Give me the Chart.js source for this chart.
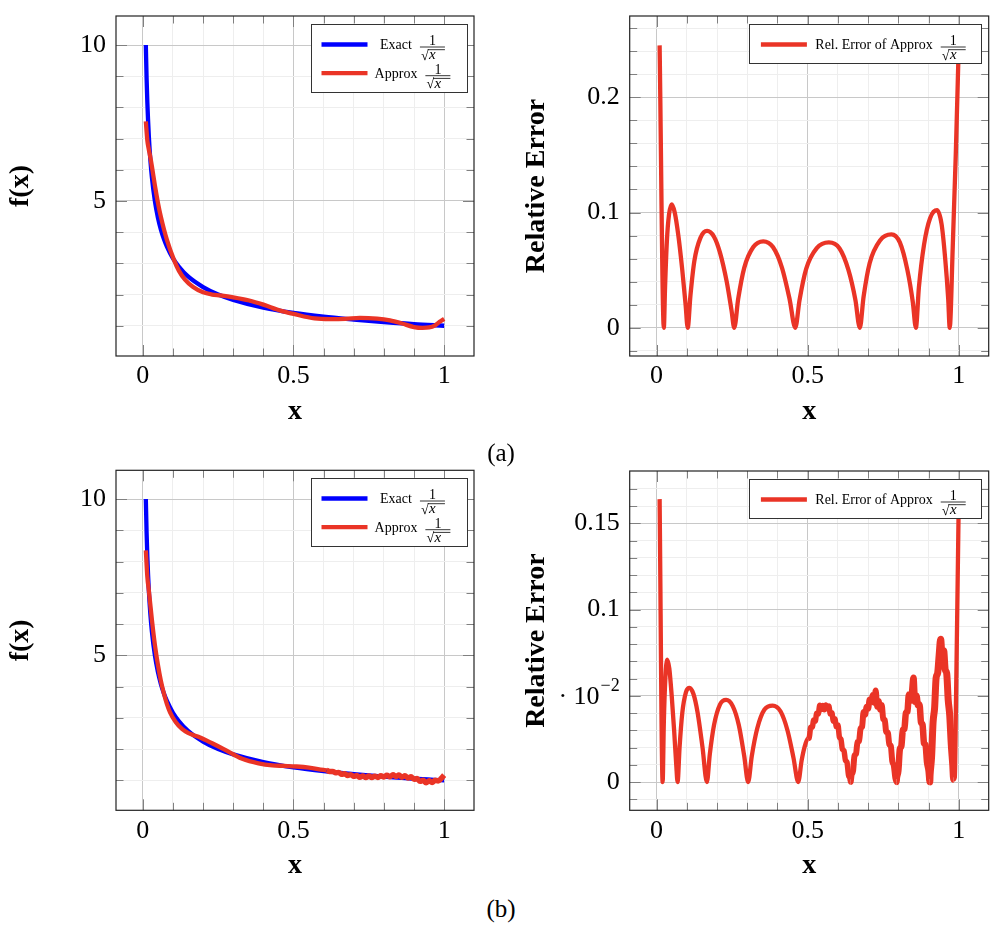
<!DOCTYPE html>
<html>
<head>
<meta charset="utf-8">
<script src="https://cdn.jsdelivr.net/npm/chart.js@4.4.1/dist/chart.umd.min.js"></script>
<style>
  body { margin: 0; background: #fff; }
  #page { position: relative; width: 1002px; height: 930px; font-family: "Liberation Serif", serif; }
  .panel { position: absolute; }
  .cap { position: absolute; width: 60px; text-align: center; font-size: 25px; line-height: 25px; }
</style>
</head>
<body>
<div id="page">
  <canvas class="panel" id="fa" width="500" height="440" style="left:0;top:0"></canvas>
  <canvas class="panel" id="ea" width="502" height="440" style="left:500px;top:0"></canvas>
  <div class="cap" style="left:471px;top:440px">(a)</div>
  <canvas class="panel" id="fb" width="500" height="440" style="left:0;top:455px"></canvas>
  <canvas class="panel" id="eb" width="502" height="440" style="left:500px;top:455px"></canvas>
  <div class="cap" style="left:471px;top:896px">(b)</div>
</div>
<script>
// ticks
const xMinor = [0, 0.1, 0.2, 0.3, 0.4, 0.5, 0.6, 0.7, 0.8, 0.9, 1];
const xMajor = [0, 0.5, 1];
const xLabels = ['0', '0.5', '1'];
const fMinor = [1, 2, 3, 4, 5, 6, 7, 8, 9, 10];
const fMajor = [5, 10];
const fLabels = ['5', '10'];
const errAMinor = [-0.02, 0, 0.02, 0.04, 0.06, 0.08, 0.1, 0.12, 0.14, 0.16, 0.18, 0.2, 0.22, 0.24, 0.26];
const errAMajor = [0, 0.1, 0.2];
const errALabels = ['0', '0.1', '0.2'];
const errBMinor = [-0.01, 0, 0.01, 0.02, 0.03, 0.04, 0.05, 0.06, 0.07, 0.08, 0.09, 0.1, 0.11, 0.12, 0.13, 0.14, 0.15, 0.16, 0.17];
const errBMajor = [0, 0.05, 0.1, 0.15];
const errBLabels = ['0', '', '0.1', '0.15'];
// pgfplots put its scale note "· 10^-2" in place of the 0.05 label
const errBScaleNote = { value: 0.05, base: '· 10', sup: '−2' };

// exact 1/sqrt(x)
const exactX = [0.01, 0.0125, 0.015, 0.02, 0.025, 0.03, 0.04, 0.05, 0.06, 0.07, 0.08, 0.1, 0.12, 0.15, 0.2, 0.25, 0.3, 0.4, 0.5, 0.6, 0.7, 0.8, 0.9, 1.0];
const exactY = [10, 8.94, 8.16, 7.07, 6.32, 5.77, 5.0, 4.47, 4.08, 3.78, 3.54, 3.16, 2.89, 2.58, 2.24, 2.0, 1.83, 1.58, 1.41, 1.29, 1.2, 1.12, 1.05, 1.0];

// (a) approximation and its relative error
const approxAX = [0.01, 0.015, 0.02, 0.024, 0.03, 0.04, 0.05, 0.06, 0.08, 0.103, 0.12, 0.14, 0.167, 0.2, 0.23, 0.257, 0.3, 0.353, 0.4, 0.459, 0.5, 0.57, 0.62, 0.6725, 0.72, 0.777, 0.82, 0.858, 0.9, 0.928, 0.95, 0.97, 0.985, 1.0];
const approxAY = [7.55, 6.94, 6.65, 6.45, 6.12, 5.5, 4.95, 4.49, 3.75, 3.12, 2.76, 2.48, 2.24, 2.07, 2.0, 1.97, 1.91, 1.81, 1.676, 1.476, 1.38, 1.235, 1.21, 1.219, 1.25, 1.226, 1.171, 1.08, 0.959, 0.932, 0.944, 1.015, 1.128, 1.22];
const errAX = [0.01, 0.024, 0.028, 0.034, 0.041, 0.05, 0.06, 0.072, 0.085, 0.096, 0.103,
  0.112, 0.125, 0.145, 0.167, 0.19, 0.21, 0.232, 0.248, 0.257,
  0.27, 0.29, 0.32, 0.353, 0.385, 0.415, 0.44, 0.459,
  0.473, 0.495, 0.53, 0.57, 0.605, 0.635, 0.658, 0.6725,
  0.685, 0.705, 0.74, 0.777, 0.805, 0.83, 0.848, 0.858,
  0.868, 0.885, 0.905, 0.928, 0.943, 0.955, 0.965, 0.97,
  0.98, 0.99, 1.0];
const errAY = [0.245, 0, 0.035, 0.075, 0.098, 0.107, 0.1, 0.08, 0.05, 0.02, 0,
  0.028, 0.058, 0.078, 0.084, 0.079, 0.065, 0.04, 0.015, 0,
  0.025, 0.052, 0.07, 0.075, 0.07, 0.052, 0.025, 0,
  0.024, 0.051, 0.069, 0.074, 0.069, 0.05, 0.024, 0,
  0.027, 0.056, 0.076, 0.081, 0.074, 0.05, 0.022, 0,
  0.035, 0.072, 0.095, 0.102, 0.09, 0.06, 0.025, 0,
  0.07, 0.15, 0.246];

// (b) approximation and its relative error (noisy past x = 0.5)
const approxBX = [0.01, 0.015, 0.02, 0.025, 0.03, 0.035, 0.04, 0.05, 0.06, 0.0695, 0.08, 0.09, 0.109, 0.13, 0.15, 0.1665, 0.19, 0.23, 0.27, 0.303, 0.33, 0.384, 0.43, 0.4686, 0.51, 0.551, 0.6,
  0.61, 0.62, 0.63, 0.64, 0.65, 0.66, 0.67, 0.68, 0.69, 0.7, 0.71, 0.72, 0.73, 0.74, 0.75, 0.76, 0.77, 0.78, 0.79, 0.8,
  0.81, 0.82, 0.83, 0.84, 0.85, 0.86, 0.87, 0.88, 0.89, 0.9, 0.91, 0.92, 0.93, 0.94, 0.95, 0.96, 0.97, 0.98, 0.99, 1.0];
const approxBY = [8.36, 7.51, 7.07, 6.61, 6.15, 5.72, 5.34, 4.7, 4.18, 3.793, 3.437, 3.183, 2.864, 2.643, 2.517, 2.451, 2.37, 2.184, 1.988, 1.817, 1.689, 1.542, 1.476, 1.461, 1.442, 1.406, 1.33,
  1.32, 1.278, 1.285, 1.24, 1.25, 1.195, 1.21, 1.152, 1.181, 1.126, 1.153, 1.097, 1.136, 1.092, 1.139, 1.089, 1.133, 1.092, 1.146, 1.107,
  1.161, 1.116, 1.175, 1.123, 1.167, 1.1, 1.142, 1.075, 1.111, 1.035, 1.06, 0.966, 1.002, 0.919, 0.982, 0.929, 1.0, 0.981, 1.055, 1.164];
const errBX = [0.01, 0.02, 0.024, 0.029, 0.035, 0.042, 0.05, 0.058, 0.065, 0.0695,
  0.076, 0.085, 0.097, 0.109, 0.122, 0.136, 0.152, 0.1665,
  0.176, 0.19, 0.21, 0.23, 0.252, 0.272, 0.29, 0.303,
  0.315, 0.333, 0.357, 0.384, 0.41, 0.433, 0.453, 0.4686,
  0.48, 0.49, 0.5, 0.505, 0.51, 0.515, 0.52, 0.525, 0.53, 0.535, 0.54, 0.545, 0.55, 0.555, 0.56, 0.565, 0.57,
  0.575, 0.58, 0.585, 0.59, 0.595, 0.6, 0.605, 0.61, 0.615, 0.62, 0.625, 0.63, 0.635, 0.64, 0.642,
  0.645, 0.65, 0.655, 0.66, 0.665, 0.67, 0.675, 0.68, 0.685, 0.69, 0.695, 0.7, 0.705, 0.71, 0.715, 0.72,
  0.725, 0.73, 0.735, 0.74, 0.745, 0.75, 0.755, 0.76, 0.765, 0.77, 0.775, 0.78, 0.785, 0.79, 0.794,
  0.795, 0.8, 0.805, 0.81, 0.815, 0.82, 0.825, 0.83, 0.835, 0.84, 0.845, 0.85, 0.855, 0.86, 0.865,
  0.87, 0.875, 0.88, 0.885, 0.89, 0.895, 0.9, 0.904,
  0.905, 0.91, 0.915, 0.92, 0.925, 0.93, 0.935, 0.94, 0.945, 0.95, 0.955, 0.96, 0.965, 0.97, 0.975, 0.98, 0.983,
  0.987, 0.991, 0.995, 1.0];
const errBY = [0.164, 0, 0.035, 0.06, 0.071, 0.066, 0.05, 0.03, 0.01, 0,
  0.02, 0.04, 0.052, 0.0545, 0.051, 0.04, 0.02, 0,
  0.016, 0.033, 0.045, 0.0476, 0.044, 0.033, 0.015, 0,
  0.015, 0.031, 0.042, 0.0443, 0.041, 0.03, 0.014, 0,
  0.0125, 0.0205, 0.0251, 0.0255, 0.0318, 0.0318, 0.036, 0.0353, 0.0398, 0.0394, 0.0445, 0.042, 0.0443, 0.0419, 0.0447, 0.0425, 0.044,
  0.0394, 0.0401, 0.0353, 0.0367, 0.032, 0.0331, 0.026, 0.0248, 0.0189, 0.0182, 0.0125, 0.0115, 0.0041, 0.002, 0,
  0.004, 0.0063, 0.0153, 0.0164, 0.0233, 0.0237, 0.031, 0.0321, 0.0406, 0.0389, 0.0437, 0.0424, 0.0479, 0.0466, 0.0504, 0.046,
  0.053, 0.0436, 0.0469, 0.0419, 0.0446, 0.0365, 0.0359, 0.0289, 0.0288, 0.0219, 0.021, 0.012, 0.0096, 0.0025, 0,
  0.0022, 0.0066, 0.019, 0.0209, 0.0302, 0.0307, 0.0401, 0.0408, 0.0508, 0.0471, 0.0516, 0.0605, 0.0466, 0.05, 0.0444,
  0.0449, 0.0346, 0.0332, 0.0224, 0.0214, 0.0114, 0.0067, 0,
  0.004, 0.0146, 0.0349, 0.0429, 0.0604, 0.0631, 0.0735, 0.0828, 0.072, 0.0761, 0.0652, 0.063, 0.0476, 0.0387, 0.0222, 0.01, 0.0015,
  0.003, 0.05, 0.1, 0.164];

const BLUE = '#0000ff';
const RED = '#ea3426';
const SERIF = '"Liberation Serif", serif';
const LINE_W = 4.3;

function has(list, v) {
  return list.some(m => Math.abs(m - v) < 1e-9);
}

function axis(minor, major, labels, min, max, title, titlePad, tickPad, fit) {
  return {
    type: 'linear', min: min, max: max,
    afterBuildTicks: s => { s.ticks = minor.map(v => ({ value: v })); },
    afterFit: s => {
      fit(s);
      // keep the plot box exactly where it is in the figure
      s.paddingTop = s.paddingBottom = s.paddingLeft = s.paddingRight = 0;
    },
    grid: {
      drawTicks: false,
      color: c => (c.tick && has(major, c.tick.value)) ? '#c8c8c8' : '#eeeeee',
      lineWidth: 1
    },
    border: { display: false },
    ticks: {
      autoSkip: false, maxRotation: 0, padding: tickPad, color: '#000',
      font: { family: SERIF, size: 26 },
      callback: v => { const i = major.findIndex(m => Math.abs(m - v) < 1e-9); return i < 0 ? '' : labels[i]; }
    },
    title: { display: true, text: title, color: '#000', padding: titlePad, font: { family: SERIF, size: 28, weight: 'bold' } }
  };
}

// pgfplots-like frame with inward ticks on every side
const pgfAxes = {
  id: 'pgfAxes',
  beforeDatasetsDraw(chart) {
    const { ctx, chartArea: a } = chart;
    ctx.save();
    ctx.strokeStyle = '#808080';
    ctx.lineWidth = 1;
    ['x', 'y'].forEach(id => {
      const s = chart.scales[id];
      const major = s.options.majorList;
      s.ticks.forEach(t => {
        const p = Math.round(s.getPixelForValue(t.value)) + 0.5;
        const len = has(major, t.value) ? 11 : 7.5;
        ctx.beginPath();
        if (id === 'x') {
          ctx.moveTo(p, a.bottom); ctx.lineTo(p, a.bottom - len);
          ctx.moveTo(p, a.top); ctx.lineTo(p, a.top + len);
        } else {
          ctx.moveTo(a.left, p); ctx.lineTo(a.left + len, p);
          ctx.moveTo(a.right, p); ctx.lineTo(a.right - len, p);
        }
        ctx.stroke();
      });
    });
    ctx.restore();
  },
  afterDatasetsDraw(chart) {
    const { ctx, chartArea: a } = chart;
    ctx.save();
    ctx.strokeStyle = '#222';
    ctx.lineWidth = 1.2;
    ctx.strokeRect(a.left, a.top, a.right - a.left, a.bottom - a.top);
    const note = chart.options.scales.y.scaleNote;
    if (note) {
      const y = chart.scales.y.getPixelForValue(note.value);
      const right = a.left - 10;
      ctx.fillStyle = '#000';
      ctx.textBaseline = 'middle';
      ctx.textAlign = 'right';
      ctx.font = '18px ' + SERIF;
      const supW = ctx.measureText(note.sup).width;
      ctx.fillText(note.sup, right, y - 9);
      ctx.font = '26px ' + SERIF;
      ctx.fillText(note.base, right - supW - 1, y + 1);
    }
    ctx.restore();
  }
};

function drawFrac(ctx, x, cy, w) {
  ctx.fillStyle = '#000';
  ctx.strokeStyle = '#000';
  ctx.textBaseline = 'alphabetic';
  ctx.textAlign = 'center';
  ctx.font = '14px ' + SERIF;
  ctx.fillText('1', x + w / 2, cy + 0.8);
  ctx.lineWidth = 0.8;
  ctx.beginPath(); ctx.moveTo(x, cy + 2.5); ctx.lineTo(x + w, cy + 2.5); ctx.stroke();
  ctx.textAlign = 'left';
  ctx.font = '14px ' + SERIF;
  const sw = ctx.measureText('√').width;
  ctx.fillText('√', x + 1, cy + 15);
  ctx.font = 'italic 15px ' + SERIF;
  ctx.fillText('x', x + 1 + sw + 0.5, cy + 14.5);
  ctx.beginPath(); ctx.moveTo(x + sw, cy + 5.2); ctx.lineTo(x + w, cy + 5.2); ctx.stroke();
}

function texLegend(box) {
  return {
    id: 'texLegend',
    afterDraw(chart) {
      const { ctx, chartArea: a } = chart;
      const x0 = Math.round(a.right - box.right - box.width) + 0.5;
      const y0 = Math.round(a.top + 8) + 0.5;
      const h = box.items.length === 1 ? 39 : 68;
      ctx.save();
      ctx.fillStyle = '#fff';
      ctx.fillRect(x0, y0, box.width, h);
      ctx.strokeStyle = '#333';
      ctx.lineWidth = 1;
      ctx.strokeRect(x0, y0, box.width, h);
      box.items.forEach((it, i) => {
        const cy = y0 + 20 + i * 28.7;
        ctx.strokeStyle = it.color;
        ctx.lineWidth = LINE_W;
        ctx.beginPath(); ctx.moveTo(x0 + box.lineLeft, cy); ctx.lineTo(x0 + box.lineLeft + 46, cy); ctx.stroke();
        ctx.font = '14px ' + SERIF;
        ctx.fillStyle = '#000';
        ctx.textAlign = 'left';
        ctx.textBaseline = 'alphabetic';
        const tw = ctx.measureText(it.text).width;
        const fw = 25, gap = 8;
        const tx = x0 + box.cell - (tw + gap + fw) / 2;
        ctx.fillText(it.text, tx, cy + 4.7);
        drawFrac(ctx, tx + tw + gap, cy, fw);
      });
      ctx.restore();
    }
  };
}

// thicker stroke where the approximation is noisy
function noisyWidth(steps) {
  return c => {
    let w;
    steps.forEach(st => { if (c.p0.parsed.x >= st[0] - 1e-9) w = st[1]; });
    return w;
  };
}

function panel(id, p) {
  const xs = axis(xMinor, xMajor, xLabels, -0.089, 1.099, 'x', { bottom: p.xTitlePad }, 5, s => { s.height = p.xh; });
  xs.majorList = xMajor;
  const ys = axis(p.yMinor, p.yMajor, p.yLabels, p.ymin, p.ymax, p.ytitle, { top: p.yTitlePad }, 10, s => { s.width = p.yw; });
  ys.majorList = p.yMajor;
  ys.scaleNote = p.scaleNote;
  new Chart(document.getElementById(id), {
    type: 'line',
    data: {
      datasets: p.series.map((s, k) => ({
        data: s.xs.map((x, i) => ({ x: x, y: s.ys[i] })),
        borderColor: s.color,
        borderWidth: LINE_W,
        pointRadius: 0,
        fill: false,
        order: p.series.length - k,   // later series on top, as in pgfplots
        cubicInterpolationMode: 'monotone',
        segment: s.noise ? { borderWidth: noisyWidth(s.noise) } : {}
      }))
    },
    options: {
      responsive: false,
      animation: false,
      events: [],
      layout: { padding: { left: 0, top: p.top, right: p.right, bottom: 0 } },
      scales: { x: xs, y: ys },
      plugins: { legend: { display: false }, tooltip: { enabled: false } }
    },
    plugins: [pgfAxes, texLegend(p.legend)]
  });
}

const fLegend = { width: 156, right: 7, lineLeft: 10, cell: 101, items: [{ text: 'Exact', color: BLUE }, { text: 'Approx', color: RED }] };
const eLegend = { width: 232, right: 7.7, lineLeft: 11.4, cell: 141, items: [{ text: 'Rel. Error of Approx', color: RED }] };

panel('fa', {
  yMinor: fMinor, yMajor: fMajor, yLabels: fLabels, ymin: 0.03, ymax: 10.93, ytitle: 'f(x)',
  top: 16, right: 26, yw: 116, xh: 84, yTitlePad: 4, xTitlePad: 11, legend: fLegend,
  series: [{ xs: exactX, ys: exactY, color: BLUE }, { xs: approxAX, ys: approxAY, color: RED }]
});
panel('ea', {
  yMinor: errAMinor, yMajor: errAMajor, yLabels: errALabels, ymin: -0.0245, ymax: 0.2705, ytitle: 'Relative Error',
  top: 16, right: 13.3, yw: 129.7, xh: 84, yTitlePad: 19.5, xTitlePad: 11, legend: eLegend,
  series: [{ xs: errAX, ys: errAY, color: RED }]
});
panel('fb', {
  yMinor: fMinor, yMajor: fMajor, yLabels: fLabels, ymin: 0.04, ymax: 10.92, ytitle: 'f(x)',
  top: 15.3, right: 26, yw: 116, xh: 84.7, yTitlePad: 4, xTitlePad: 12.3, legend: fLegend,
  series: [{ xs: exactX, ys: exactY, color: BLUE },
           { xs: approxBX, ys: approxBY, color: RED, noise: [[0.61, 5.5]] }]
});
panel('eb', {
  yMinor: errBMinor, yMajor: errBMajor, yLabels: errBLabels, ymin: -0.0164, ymax: 0.1803, ytitle: 'Relative Error',
  top: 16, right: 13.3, yw: 129.7, xh: 84.7, yTitlePad: 19.5, xTitlePad: 12.3, legend: eLegend, scaleNote: errBScaleNote,
  series: [{ xs: errBX, ys: errBY, color: RED,
             noise: [[0.5, 5.5], [0.642, 6], [0.794, 6.5], [0.904, 7], [0.983, LINE_W]] }]
});
</script>
</body>
</html>
